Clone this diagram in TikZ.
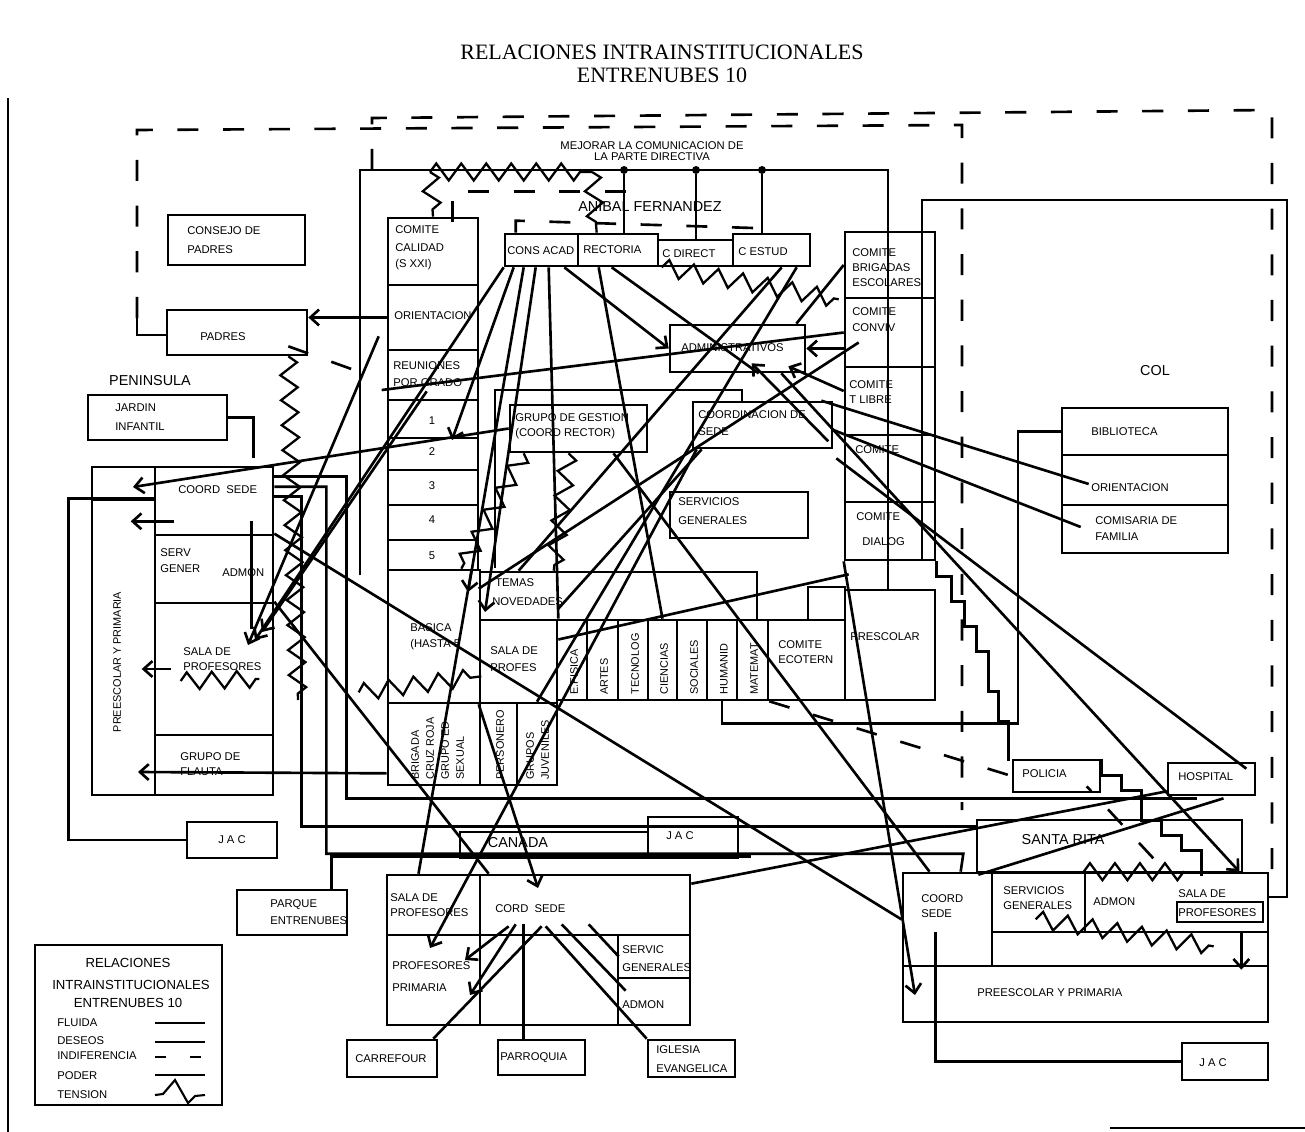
\documentclass[tikz,border=0pt]{standalone}
\usepackage{fontspec}
\setmainfont{Liberation Serif}
\setsansfont{Liberation Sans}
\usetikzlibrary{arrows.meta,fit,calc,decorations.pathmorphing}

\tikzset{
  box/.style={draw, line width=1.5pt, inner sep=0pt},
  lbl/.style={font=\sffamily\fontsize{6.4}{7.5}\selectfont, inner sep=0pt, anchor=west},
  big/.style={font=\sffamily\fontsize{8.2}{9}\selectfont, inner sep=0pt},
  vlbl/.style={font=\sffamily\fontsize{6.2}{7}\selectfont, inner sep=0pt, rotate=90, anchor=west},
  dot/.style={circle, fill, inner sep=1.6pt},
  fl/.style={line width=1.5pt},
  ind/.style={line width=1.5pt, dash pattern=on 12pt off 14pt},
  ten/.style={line width=1.3pt, decorate, decoration={zigzag, segment length=5mm, amplitude=1.7mm}},
}

\begin{document}
\begin{tikzpicture}[x=0.02cm, y=-0.02cm, >={Straight Barb[length=5pt,width=9pt]}]
  \useasboundingbox (0,0) rectangle (1305,1132);
  \draw[line width=1pt] (8,98) -- (8,1132);
  \draw[line width=1pt] (1110,1128) -- (1305,1128);

  % Titulo
  \node[font=\fontsize{12.5}{14}\selectfont] (titulo1) at (662,52) {RELACIONES INTRAINSTITUCIONALES};
  \node[font=\fontsize{12.5}{14}\selectfont] (titulo2) at (662,75) {ENTRENUBES 10};

  % Recuadros punteados
  \draw[ind] (137,318) -- (137,130) -- (962,125) -- (962,810);
  \draw[fl] (137,318) -- (137,335) -- (167,335);
  \draw[ind] (372,170) -- (372,118) -- (1272,110) -- (1272,885);

  % Anibal Fernandez
  \draw[fl] (360,575) -- (360,170) -- (888,170) -- (888,590);
  \node[big] (anibal) at (650,207) {ANIBAL FERNANDEZ};
  \node[lbl, anchor=center] (mejorar1) at (652,146) {MEJORAR LA COMUNICACION DE};
  \node[lbl, anchor=center] (mejorar2) at (652,157) {LA PARTE DIRECTIVA};

  \node[box, fit={(505,234)(578,266)}] (consacad) {};
  \node[box, fit={(578,234)(658,266)}] (rectoria) {};
  \node[box, fit={(658,240)(733,266)}] (cdirect) {};
  \node[box, fit={(733,234)(810,266)}] (cestud) {};
  \node[lbl] (tconsacad) at (507,251) {CONS ACAD};
  \node[lbl] (trectoria) at (583,250) {RECTORIA};
  \node[lbl] (tcdirect) at (662,254) {C DIRECT};
  \node[lbl] (tcestud) at (738,252) {C ESTUD};

  \node[dot] (d1) at (624,170) {};
  \node[dot] (d2) at (696,170) {};
  \node[dot] (d3) at (762,170) {};
  \draw[fl] (d1) -- (d1 |- rectoria.north);
  \draw[fl] (d2) -- (d2 |- cdirect.north);
  \draw[fl] (d3) -- (d3 |- cestud.north);

  % Columna izquierda
  \node[box, fit={(388,218)(478,285)}] (calidad) {};
  \node[box, fit={(388,285)(478,350)}] (orient) {};
  \node[box, fit={(388,350)(478,400)}] (reunion) {};
  \node[box, fit={(388,400)(478,438)}] (g1) {};
  \node[box, fit={(388,438)(478,470)}] (g2) {};
  \node[box, fit={(388,470)(478,505)}] (g3) {};
  \node[box, fit={(388,505)(478,540)}] (g4) {};
  \node[box, fit={(388,540)(478,570)}] (g5) {};
  \node[lbl] (tcalidad1) at (395,230) {COMITE};
  \node[lbl] (tcalidad2) at (395,248) {CALIDAD};
  \node[lbl] (tcalidad3) at (395,265) {(S XXI)};
  \node[lbl] (torient) at (394,316) {ORIENTACION};
  \node[lbl] (treunion1) at (393,366) {REUNIONES};
  \node[lbl] (treunion2) at (393,383) {POR GRADO};
  \node[lbl, anchor=center] (tg1) at (432,421) {1};
  \node[lbl, anchor=center] (tg2) at (432,452) {2};
  \node[lbl, anchor=center] (tg3) at (432,486) {3};
  \node[lbl, anchor=center] (tg4) at (432,520) {4};
  \node[lbl, anchor=center] (tg5) at (432,556) {5};

  \node[box, fit={(388,570)(480,703)}] (basica) {};
  \node[box, fit={(480,572)(757,620)}] (temas) {};
  \node[box, fit={(480,620)(557,703)}] (salaprof) {};
  \node[box, fit={(808,587)(845,620)}] (cuadro) {};
  \node[lbl] (tbasica1) at (410,628) {BASICA};
  \node[lbl] (tbasica2) at (410,645) {(HASTA 5};
  \node[lbl] (ttemas1) at (495,583) {TEMAS};
  \node[lbl] (ttemas2) at (492,602) {NOVEDADES};
  \node[lbl] (tsalaprof1) at (490,651) {SALA DE};
  \node[lbl] (tsalaprof2) at (490,668) {PROFES};

  % Areas
  \node[box, fit={(557,620)(587,700)}] (efisica) {};
  \node[box, fit={(587,620)(618,700)}] (artes) {};
  \node[box, fit={(618,620)(648,700)}] (tecno) {};
  \node[box, fit={(648,620)(677,700)}] (ciencias) {};
  \node[box, fit={(677,620)(707,700)}] (sociales) {};
  \node[box, fit={(707,620)(737,700)}] (human) {};
  \node[box, fit={(737,620)(768,700)}] (matemat) {};
  \node[box, fit={(768,620)(845,700)}] (ecotern) {};
  \node[box, fit={(845,590)(935,700)}] (prescolar) {};
  \node[vlbl] (tefisica) at (574,695) {E.FISICA};
  \node[vlbl] (tartes) at (604,695) {ARTES};
  \node[vlbl] (ttecno) at (635,695) {TECNOLOG};
  \node[vlbl] (tciencias) at (664,695) {CIENCIAS};
  \node[vlbl] (tsociales) at (694,695) {SOCIALES};
  \node[vlbl] (thuman) at (724,695) {HUMANID};
  \node[vlbl] (tmatemat) at (754,695) {MATEMAT};
  \node[lbl] (tecotern1) at (778,645) {COMITE};
  \node[lbl] (tecotern2) at (778,660) {ECOTERN};
  \node[lbl] (tprescolar) at (850,637) {PRESCOLAR};

  \node[box, fit={(388,703)(480,785)}] (brigada) {};
  \node[box, fit={(480,703)(517,785)}] (personero) {};
  \node[box, fit={(517,703)(557,785)}] (juveniles) {};
  \node[vlbl] (tbrigada1) at (415,780) {BRIGADA};
  \node[vlbl] (tbrigada2) at (430,780) {CRUZ ROJA};
  \node[vlbl] (tbrigada3) at (445,780) {GRUPO ED};
  \node[vlbl] (tbrigada4) at (460,780) {SEXUAL};
  \node[vlbl] (tpersonero) at (500,780) {PERSONERO};
  \node[vlbl] (tjuveniles1) at (530,780) {GRUPOS};
  \node[vlbl] (tjuveniles2) at (545,780) {JUVENILES};

  % Centro
  \node[box, fit={(510,405)(647,452)}] (ggestion) {};
  \node[lbl] (tggestion1) at (515,418) {GRUPO DE GESTION};
  \node[lbl] (tggestion2) at (515,434) {(COORD RECTOR)};
  \draw[fl] (495,568) -- (495,390) -- (742,390) -- (742,402);
  \node[box, fit={(693,402)(832,448)}] (coordsede) {};
  \node[lbl] (tcoordsede1) at (698,415) {COORDINACION DE};
  \node[lbl] (tcoordsede2) at (698,432) {SEDE};
  \node[box, fit={(670,325)(805,372)}] (admin) {};
  \node[lbl] (tadmin) at (681,348) {ADMINISTRATIVOS};
  \node[box, fit={(670,492)(808,538)}] (servgen) {};
  \node[lbl] (tservgen1) at (678,502) {SERVICIOS};
  \node[lbl] (tservgen2) at (678,521) {GENERALES};

  % Comites
  \node[box, fit={(845,232)(935,298)}] (brigadas) {};
  \node[box, fit={(845,298)(935,367)}] (conviv) {};
  \node[box, fit={(845,367)(935,435)}] (tlibre) {};
  \node[box, fit={(845,435)(935,502)}] (comite4) {};
  \node[box, fit={(845,502)(935,560)}] (dialog) {};
  \node[lbl] (tbrigadas1) at (852,253) {COMITE};
  \node[lbl] (tbrigadas2) at (852,268) {BRIGADAS};
  \node[lbl] (tbrigadas3) at (852,283) {ESCOLARES};
  \node[lbl] (tconviv1) at (852,312) {COMITE};
  \node[lbl] (tconviv2) at (852,328) {CONVIV};
  \node[lbl] (ttlibre1) at (849,385) {COMITE};
  \node[lbl] (ttlibre2) at (849,400) {T LIBRE};
  \node[lbl] (tcomite4) at (855,450) {COMITE};
  \node[lbl] (tdialog1) at (856,517) {COMITE};
  \node[lbl] (tdialog2) at (862,542) {DIALOG};

  % Col
  \draw[fl] (922,560) -- (922,200) -- (1287,200) -- (1287,897) -- (1268,897);
  \node[big] (col) at (1155,371) {COL};
  \node[box, fit={(1062,408)(1228,455)}] (biblioteca) {};
  \node[box, fit={(1062,455)(1228,505)}] (orientcol) {};
  \node[box, fit={(1062,505)(1228,553)}] (comisaria) {};
  \node[lbl] (tbiblioteca) at (1091,432) {BIBLIOTECA};
  \node[lbl] (torientcol) at (1091,488) {ORIENTACION};
  \node[lbl] (tcomisaria1) at (1095,521) {COMISARIA DE};
  \node[lbl] (tcomisaria2) at (1095,537) {FAMILIA};
  \draw[fl] (dialog.south east) -- ++(0,15) -- ++(15,0) -- ++(0,25) -- ++(13,0) -- ++(0,25)
    -- ++(12,0) -- ++(0,25) -- ++(12,0) -- ++(0,40) -- ++(10,0) -- ++(0,30) -- ++(10,0) -- ++(0,40);

  % Peninsula
  \node[box, fit={(168,215)(305,265)}] (consejo) {};
  \node[lbl] (tconsejo1) at (187,231) {CONSEJO DE};
  \node[lbl] (tconsejo2) at (187,250) {PADRES};
  \node[box, fit={(167,310)(307,355)}] (padres) {};
  \node[lbl, anchor=center] (tpadres) at (223,337) {PADRES};
  \node[big] (peninsula) at (150,381) {PENINSULA};
  \node[box, fit={(88,395)(227,440)}] (jardin) {};
  \node[lbl] (tjardin1) at (115,408) {JARDIN};
  \node[lbl] (tjardin2) at (115,427) {INFANTIL};
  \node[box, fit={(92,467)(273,795)}] (penbox) {};
  \draw[fl] (155,467) -- (155,795);
  \draw[fl] (92,500) -- (155,500);
  \node[box, fit={(155,467)(273,535)}] (pcoord) {};
  \node[box, fit={(155,535)(273,603)}] (pserv) {};
  \node[box, fit={(155,603)(273,735)}] (psala) {};
  \node[box, fit={(155,735)(273,795)}] (pflauta) {};
  \node[vlbl, anchor=center] (tpreesc) at (117,662) {PREESCOLAR Y PRIMARIA};
  \node[lbl] (tpcoord) at (178,490) {COORD\ \ SEDE};
  \node[lbl] (tpserv1) at (160,553) {SERV};
  \node[lbl] (tpserv2) at (160,569) {GENER};
  \node[lbl] (tpadmon) at (222,573) {ADMON};
  \node[lbl] (tpsala1) at (183,652) {SALA DE};
  \node[lbl] (tpsala2) at (183,667) {PROFESORES};
  \node[lbl] (tpflauta1) at (180,757) {GRUPO DE};
  \node[lbl] (tpflauta2) at (180,772) {FLAUTA};
  \node[box, fit={(187,822)(277,858)}] (jacizq) {};
  \node[lbl, anchor=center] (tjacizq) at (232,840) {J A C};
  \node[box, fit={(237,890)(347,935)}] (parque) {};
  \node[lbl] (tparque1) at (270,905) {PARQUE};
  \node[lbl] (tparque2) at (270,921) {ENTRENUBES};

  % Canada
  \node[box, fit={(460,832)(648,858)}] (canadabox) {};
  \node[big] (canada) at (518,843) {CANADA};
  \node[box, fit={(648,817)(738,858)}] (jaccanada) {};
  \node[lbl, anchor=center] (tjaccanada) at (680,836) {J A C};
  \node[box, fit={(387,875)(690,1025)}] (cgrande) {};
  \node[box, fit={(387,875)(480,935)}] (csala) {};
  \node[box, fit={(480,875)(690,935)}] (ccord) {};
  \node[box, fit={(387,935)(480,1025)}] (cprof) {};
  \node[box, fit={(480,935)(618,1025)}] (cmid) {};
  \node[box, fit={(618,935)(690,978)}] (cserv) {};
  \node[box, fit={(618,978)(690,1025)}] (cadmon) {};
  \node[lbl] (tcsala1) at (390,898) {SALA DE};
  \node[lbl] (tcsala2) at (390,913) {PROFESORES};
  \node[lbl] (tccord) at (495,909) {CORD\ \ SEDE};
  \node[lbl] (tcprof1) at (392,966) {PROFESORES};
  \node[lbl] (tcprof2) at (392,988) {PRIMARIA};
  \node[lbl] (tcserv1) at (622,950) {SERVIC};
  \node[lbl] (tcserv2) at (622,968) {GENERALES};
  \node[lbl] (tcadmon) at (622,1005) {ADMON};
  \node[box, fit={(347,1040)(437,1077)}] (carrefour) {};
  \node[lbl] (tcarrefour) at (355,1059) {CARREFOUR};
  \node[box, fit={(498,1040)(585,1075)}] (parroquia) {};
  \node[lbl] (tparroquia) at (500,1058) {PARROQUIA};
  \node[box, fit={(648,1040)(735,1077)}] (iglesia) {};
  \node[lbl] (tiglesia1) at (656,1050) {IGLESIA};
  \node[lbl] (tiglesia2) at (656,1069) {EVANGELICA};

  % Santa Rita
  \node[box, fit={(1013,760)(1100,792)}] (policia) {};
  \node[lbl] (tpolicia) at (1022,774) {POLICIA};
  \node[box, fit={(1168,763)(1255,795)}] (hospital) {};
  \node[lbl] (thospital) at (1178,777) {HOSPITAL};
  \node[box, fit={(977,820)(1242,872)}] (santarita) {};
  \node[big] (tsantarita) at (1063,840) {SANTA RITA};
  \node[box, fit={(903,873)(1268,1022)}] (srgrande) {};
  \node[box, fit={(903,873)(992,966)}] (srcoord) {};
  \node[box, fit={(992,873)(1085,932)}] (srserv) {};
  \node[box, fit={(1085,873)(1268,932)}] (sradmon) {};
  \node[box, fit={(1177,902)(1263,922)}] (srsala) {};
  \node[box, fit={(903,966)(1268,1022)}] (srpre) {};
  \node[lbl] (tsrcoord1) at (921,899) {COORD};
  \node[lbl] (tsrcoord2) at (921,914) {SEDE};
  \node[lbl] (tsrserv1) at (1003,891) {SERVICIOS};
  \node[lbl] (tsrserv2) at (1003,906) {GENERALES};
  \node[lbl] (tsradmon) at (1093,902) {ADMON};
  \node[lbl] (tsrsala1) at (1178,894) {SALA DE};
  \node[lbl] (tsrsala2) at (1178,913) {PROFESORES};
  \node[lbl] (tsrpre) at (977,993) {PREESCOLAR Y PRIMARIA};
  \node[box, fit={(1182,1043)(1268,1080)}] (jacder) {};
  \node[lbl, anchor=center] (tjacder) at (1213,1063) {J A C};
  \draw[fl] (policia.north east) -- ++(0,17) -- ++(20,0) -- ++(0,15) -- ++(20,0) -- ++(0,30)
    -- ++(20,0) -- ++(0,15) -- ++(20,0) -- ++(0,15) -- ++(20,0) -- ++(0,25);

  % Puntas libres
  \coordinate (pt1) at (133,487);
  \coordinate (pt2) at (138,772);
  \coordinate (pt3) at (248,645);
  \coordinate (pt4) at (255,640);
  \coordinate (pt5) at (262,632);
  \coordinate (pt6) at (298,700);
  \coordinate (pt7) at (452,440);
  \coordinate (pt8) at (468,592);
  \coordinate (pt9) at (485,612);
  \coordinate (pt10) at (430,948);
  \coordinate (pt11) at (915,995);
  \coordinate (pt12) at (538,888);
  \coordinate (pt13) at (470,995);
  \coordinate (pt14) at (465,960);
  \coordinate (z1) at (430,172);
  \coordinate (z2) at (592,172);

  % Tension arriba
  \draw[ten] (z1) -- (z2);
  \draw[ten] (z1) -- (calidad.north);
  \draw[ten] (z2) -- ($(rectoria.north west)+(20,0)$);
  \draw[ind] ($(calidad.north east)+(-27,5)$) -- ++(0,-30) -- ++(190,0);
  \draw[ind] ($(consacad.north west)+(12,0)$) -- ++(0,-12) -- ++(260,8);

  % Peninsula conectores
  \draw[fl,->] (orient.west) -- (orient.west -| padres.east);
  \draw[fl,->] (ggestion.west) -- (pt1);
  \draw[fl,->] ($(pcoord.south west)+(20,-15)$) -- ($(pcoord.south west)+(-23,-15)$);
  \draw[fl,->] ($(psala.west)+(17,0)$) -- ($(psala.west)+(-12,0)$);
  \draw[fl,->] ($(brigada.south west)+(0,-13)$) -- (pt2);
  \draw[fl,->] ($(orient.south west)+(-8,-15)$) -- (pt3);
  \draw[fl,->] (consacad.south west) -- (pt4);
  \draw[fl,->] ($(reunion.south west)+(40,-10)$) -- (pt5);
  \draw[fl] (conviv.west) -- ($(reunion.west)+(-5,15)$);
  \draw[fl] (jardin.east) -- ++(25,0) -- ++(0,40);
  \draw[ten] ($(padres.south east)+(-20,0)$) -- (pt6);
  \draw[ind] ($(padres.south east)+(-20,-10)$) -- ($(orient.south west)+(-15,25)$);
  \draw[ten] ($(psala.west)+(27,12)$) -- ($(psala.east)+(-15,10)$);
  \draw[fl] ($(pcoord.north east)+(-23,55)$) -- ++(0,108);
  \draw[fl] ($(pcoord.north west)+(0,33)$) -- ++(-85,0) |- (jacizq.west);
  \draw[fl] ($(pcoord.north east)+(0,11)$) -- ++(72,0) |- ($(hospital.south)+(-15,2)$);
  \draw[fl] ($(pcoord.north east)+(0,21)$) -- ++(52,0) -- ++(0,367) -- ++(637,0) -- ($(srcoord.north west)+(59,0)$);
  \draw[fl] ($(pcoord.north east)+(0,31)$) -- ++(27,0) |- ($(santarita.north west)+(0,8)$);
  \draw[fl] ($(parque.north east)+(-17,0)$) -- ++(0,-32) -- ++(420,0);

  % Consejo academico y rectoria
  \draw[fl,->] ($(consacad.south west)+(10,0)$) -- (pt7);
  \draw[fl,->] ($(consacad.south west)+(20,0)$) -- (pt8);
  \draw[fl,->] ($(consacad.south west)+(32,0)$) -- (pt9);
  \draw[fl] ($(consacad.south west)+(45,0)$) -- (salaprof.north east);
  \draw[fl,->] ($(consacad.south east)+(-15,0)$) -- (admin.west);
  \draw[fl] ($(rectoria.south west)+(22,0)$) -- (ciencias.north);
  \draw[fl] ($(rectoria.south west)+(35,0)$) -- ($(admin.south west)+(90,0)$);
  \draw[ten] ($(cdirect.south west)+(5,0)$) -- ($(brigadas.south west)+(-5,0)$);
  \draw[fl] ($(cestud.south west)+(50,0)$) -- ($(temas.north west)+(40,0)$);
  \draw[fl] ($(cestud.south west)+(65,0)$) -- (juveniles.north);
  \draw[fl] (brigadas.west) -- ($(admin.north east)+(-10,0)$);
  \draw[ten] ($(ggestion.south west)+(15,0)$) -- ($(basica.north east)+(-20,0)$);
  \draw[ten] ($(ggestion.south)+(-10,0)$) -- ($(temas.north west)+(75,0)$);
  \draw[ten] ($(basica.south west)+(-28,-12)$) -- ($(basica.south east)+(0,-28)$);

  % Coordinacion de sede y comites
  \draw[fl,->] ($(admin.south east)+(-25,0)$) -- ($(srgrande.north east)+(-30,0)$);
  \draw[fl] ($(coordsede.north east)+(-12,0)$) -- ($(orientcol.west)+(28,4)$);
  \draw[fl] ($(coordsede.east)+(0,5)$) -- ($(comisaria.west)+(20,-2)$);
  \draw[fl] ($(coordsede.south east)+(3,9)$) -- ($(hospital.north east)+(-10,7)$);
  \draw[fl] ($(coordsede.south west)+(10,0)$) -- ($(salaprof.north east)+(0,-10)$);
  \draw[fl,->] ($(coordsede.south west)+(5,0)$) -- (pt10);
  \draw[fl,->] (dialog.south west) -- (pt11);
  \draw[fl,->] (conviv.west |- admin.east) -- (admin.east);
  \draw[fl,->] ($(tlibre.west)+(0,-10)$) -- ($(admin.south east)+(-18,-7)$);
  \draw[fl,->] ($(coordsede.south east)+(-5,-8)$) -- ($(admin.south west)+(83,-10)$);
  \draw[fl] ($(conviv.west)+(15,10)$) -- ($(temas.north west)+(0,18)$);
  \draw[fl] ($(salaprof.east)+(0,-22)$) -- ($(dialog.south west)+(5,13)$);
  \draw[fl] (pserv.north east) -- (srcoord.west);
  \draw[fl] ($(ggestion.south)+(35,0)$) -- ($(srcoord.north)+(-18,0)$);
  \draw[fl] (human.south) -- ++(0,22) -- ++(296,0) |- (biblioteca.west);
  \draw[ind] (matemat.south east) -- (policia.west);

  % Canada conectores
  \draw[fl] (psala.north east) -- ($(ccord.north west)+(10,0)$);
  \draw[fl,->] (salaprof.south west) -- (pt12);
  \draw[fl] ($(csala.north)+(-15,0)$) -- ($(g5.south east)+(-8,0)$);
  \draw[fl] ($(ccord.south west)+(63,-10)$) -- ($(carrefour.north east)+(-5,0)$);
  \draw[fl,->] ($(ccord.south west)+(37,-12)$) -- (pt13);
  \draw[fl,->] ($(ccord.south west)+(30,-10)$) -- (pt14);
  \draw[fl] ($(ccord.south west)+(45,-12)$) -- ($(parroquia.north west)+(27,0)$);
  \draw[fl] ($(ccord.south west)+(67,-10)$) -- (iglesia.north west);
  \draw[fl] ($(ccord.south west)+(83,-12)$) -- ($(cadmon.north west)+(9,14)$);
  \draw[fl] ($(ccord.south west)+(110,-12)$) -- ($(cserv.west)+(2,0)$);
  \draw[fl] ($(ccord.north east)+(0,10)$) -- ($(hospital.south west)+(0,-5)$);

  % Santa Rita conectores
  \draw[fl] ($(srcoord.north east)+(-15,3)$) -- ($(hospital.south)+(12,2)$);
  \draw[fl] ($(srcoord.north west)+(34,60)$) |- (jacder.west);
  \draw[fl,->] ($(srgrande.north east)+(-28,59)$) -- ($(srpre.north east)+(-28,5)$);
  \draw[ten] (sradmon.north west) -- ++(100,0);
  \draw[ten] ($(srserv.south west)+(45,-14)$) -- ++(178,27);
  \draw[ind] ($(santarita.south east)+(-90,-15)$) -- ($(hospital.south west)+(-80,-10)$);

  % Leyenda
  \node[box, fit={(35,945)(222,1105)}] (leyenda) {};
  \node[font=\sffamily\fontsize{7.5}{9}\selectfont, inner sep=0pt] (ley1) at (128,963) {RELACIONES};
  \node[font=\sffamily\fontsize{7.5}{9}\selectfont, inner sep=0pt] (ley2) at (131,985) {INTRAINSTITUCIONALES};
  \node[font=\sffamily\fontsize{7.5}{9}\selectfont, inner sep=0pt] (ley3) at (128,1003) {ENTRENUBES 10};
  \node[lbl] (lfluida) at (57,1023) {FLUIDA};
  \node[lbl] (ldeseos) at (57,1041) {DESEOS};
  \node[lbl] (lindif) at (57,1056) {INDIFERENCIA};
  \node[lbl] (lpoder) at (57,1076) {PODER};
  \node[lbl] (ltension) at (57,1095) {TENSION};
  \draw[fl] (155,1023) -- (205,1023);
  \draw[fl] (155,1042) -- (205,1042);
  \draw[fl, dash pattern=on 6pt off 14pt] (155,1057) -- (205,1057);
  \draw[fl] (155,1075) -- (205,1075);
  \draw[line width=1.2pt] (155,1095) -- (163,1094) -- (175,1080) -- (188,1103) -- (195,1096) -- (205,1095);
\end{tikzpicture}
\end{document}
